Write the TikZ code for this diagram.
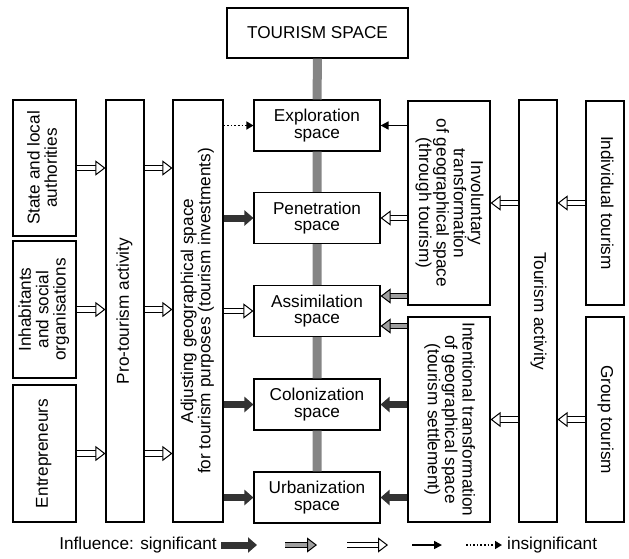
\documentclass[tikz,border=0pt]{standalone}
\usepackage{fontspec}
\setmainfont{Liberation Sans}
\usepackage{graphicx}
\usetikzlibrary{arrows.meta}

\newcommand{\rottext}[2]{\rotatebox{#1}{\begin{tabular}{@{}c@{}}#2\end{tabular}}}

\begin{document}
\begin{tikzpicture}[x=1pt,y=-1pt,
  box/.style={draw,line width=1.1pt,fill=white,inner sep=0pt,align=center},
  spine/.style={line width=9pt,draw=black!48},
  strong/.style={line width=7pt,draw=black!80,-{Triangle[length=9pt,width=15pt]}},
  medium/.style={line width=1pt,double=black!38,double distance=4.5pt,-{Triangle[length=10pt,width=15pt,fill=black!38]}},
  weak/.style={line width=1pt,double=white,double distance=4.5pt,-{Triangle[length=10pt,width=15pt,fill=white]}},
  slight/.style={line width=1.6pt,-{Triangle[length=8pt,width=8pt]}},
  faint/.style={line width=1.6pt,dotted,-{Triangle[length=7pt,width=8pt]}},
  font=\fontsize{17.2}{16.3}\selectfont]
  \useasboundingbox (0,0) rectangle (629,558);
  % Raeume (Mitte)
  \node[box,minimum width=181pt,minimum height=50pt] (tour) at (317.5,33) {TOURISM SPACE};
  \node[box,minimum width=126pt,minimum height=51pt] (expl) at (317,125.5) {Exploration\\space};
  \node[box,minimum width=126pt,minimum height=51pt] (pen) at (317,218) {Penetration\\space};
  \node[box,minimum width=126pt,minimum height=51pt] (assim) at (317,311) {Assimilation\\space};
  \node[box,minimum width=126pt,minimum height=51pt] (colon) at (317,404.5) {Colonization\\space};
  \node[box,minimum width=126pt,minimum height=51pt] (urban) at (317,497.5) {Urbanization\\space};
  % Achse
  \draw[spine] (tour.south) -- (expl.north) (expl.south) -- (pen.north) (pen.south) -- (assim.north)
    (assim.south) -- (colon.north) (colon.south) -- (urban.north);
  % linke Seite
  \node[box,minimum width=63pt,minimum height=136pt] (state) at (44.5,168) {\rottext{90}{State and local\\authorities}};
  \node[box,minimum width=63pt,minimum height=137pt] (inhab) at (44.5,309.5) {\rottext{90}{Inhabitants\\and social\\organisations}};
  \node[box,minimum width=63pt,minimum height=137pt] (entre) at (44.5,453.5) {\rottext{90}{Entrepreneurs}};
  \node[box,minimum width=38pt,minimum height=422pt] (pro) at (125,311) {\rottext{90}{Pro-tourism activity}};
  \node[box,minimum width=50pt,minimum height=422pt] (adjust) at (198,311) {\rottext{90}{Adjusting geographical space\\for tourism purposes (tourism investments)}};
  % rechte Seite
  \node[box,minimum width=82pt,minimum height=204pt] (invol) at (449,203) {\rottext{-90}{Involuntary\\transformation\\of geographical space\\(through tourism)}};
  \node[box,minimum width=82pt,minimum height=205pt] (inten) at (449,419.5) {\rottext{-90}{Intentional transformation\\of geographical space\\(tourism settlement)}};
  \node[box,minimum width=38pt,minimum height=422pt] (tact) at (538,311) {\rottext{-90}{Tourism activity}};
  \node[box,minimum width=38pt,minimum height=204pt] (indiv) at (605,203) {\rottext{-90}{Individual tourism}};
  \node[box,minimum width=38pt,minimum height=205pt] (group) at (605,419.5) {\rottext{-90}{Group tourism}};
  % Pfeile links
  \draw[weak] (state.east) -- (state.east -| pro.west);
  \draw[weak] (inhab.east) -- (inhab.east -| pro.west);
  \draw[weak] (entre.east) -- (entre.east -| pro.west);
  \draw[weak] (pro.east |- state) -- (adjust.west |- state);
  \draw[weak] (pro.east |- inhab) -- (adjust.west |- inhab);
  \draw[weak] (pro.east |- entre) -- (adjust.west |- entre);
  \draw[faint] (adjust.east |- expl) -- (expl.west);
  \draw[strong] (adjust.east |- pen) -- (pen.west);
  \draw[weak] (adjust.east |- assim) -- (assim.west);
  \draw[strong] (adjust.east |- colon) -- (colon.west);
  \draw[strong] (adjust.east |- urban) -- (urban.west);
  % Pfeile rechts
  \coordinate (a1) at ([yshift=15pt]assim.east);
  \coordinate (a2) at ([yshift=-15pt]assim.east);
  \draw[slight] (invol.west |- expl) -- (expl.east);
  \draw[weak] (invol.west |- pen) -- (pen.east);
  \draw[medium] (invol.west |- a1) -- (a1);
  \draw[medium] (inten.west |- a2) -- (a2);
  \draw[strong] (inten.west |- colon) -- (colon.east);
  \draw[strong] (inten.west |- urban) -- (urban.east);
  \draw[weak] (tact.west |- invol) -- (invol.east);
  \draw[weak] (tact.west |- inten) -- (inten.east);
  \draw[weak] (indiv.west) -- (indiv.west -| tact.east);
  \draw[weak] (group.west) -- (group.west -| tact.east);
  % Legende
  \node[anchor=east,inner sep=0pt] (sig) at (217,545) {Influence: significant};
  \node[anchor=west,inner sep=0pt] (insig) at (507,545) {insignificant};
  \coordinate (l1a) at (221,545); \coordinate (l1b) at (257,545);
  \coordinate (l2a) at (285,545); \coordinate (l2b) at (317,545);
  \coordinate (l3a) at (347,545); \coordinate (l3b) at (388,545);
  \coordinate (l4a) at (412,545); \coordinate (l4b) at (442,545);
  \coordinate (l5a) at (466,545); \coordinate (l5b) at (502,545);
  \draw[strong] (l1a) -- (l1b);
  \draw[medium] (l2a) -- (l2b);
  \draw[weak] (l3a) -- (l3b);
  \draw[slight] (l4a) -- (l4b);
  \draw[faint] (l5a) -- (l5b);
\end{tikzpicture}
\end{document}
